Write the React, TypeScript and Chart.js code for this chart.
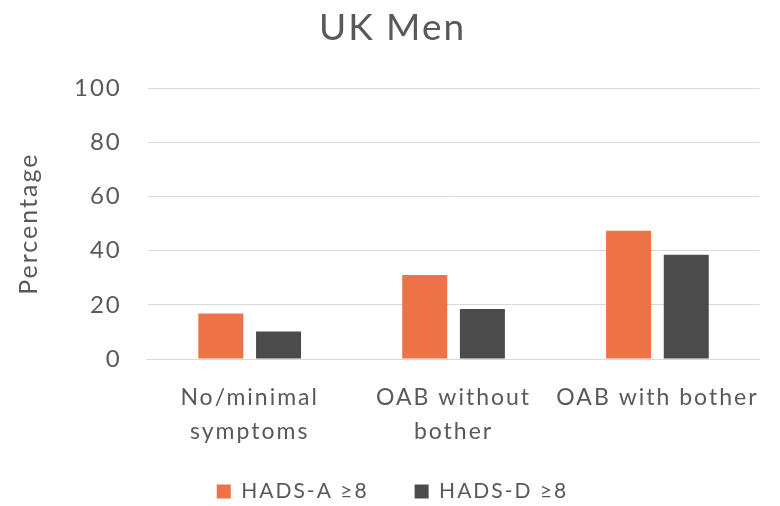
import React, { useEffect, useRef } from "react";
import { Chart, registerables } from "chart.js";

Chart.register(...registerables);

const categories: (string | string[])[] = [["No/minimal", "symptoms"], ["OAB without", "bother"], "OAB with bother"];
const hadsA = [16.8, 31.0, 47.4];
const hadsD = [10.2, 18.5, 38.5];
const yTicks = [0, 20, 40, 60, 80, 100];

const FONT = "Lato, 'Open Sans', sans-serif";
const GREY = "#595959";

const spacingPlugin = {
  id: "spacing",
  beforeUpdate(chart: any) {
    chart.ctx.letterSpacing = "2px";
  },
  beforeLayout(chart: any) {
    chart.ctx.letterSpacing = "2px";
  },
  beforeDraw(chart: any) {
    chart.ctx.letterSpacing = "2px";
  },
};

export default function App() {
  const ref = useRef<HTMLCanvasElement | null>(null);
  useEffect(() => {
    document.body.style.margin = "0";
    const ctx = ref.current!;
    const chart = new Chart(ctx, {
      type: "bar",
      plugins: [spacingPlugin],
      data: {
        labels: categories,
        datasets: [
          { label: "HADS-A ≥8", data: hadsA, backgroundColor: "#ED7347", borderWidth: 0 },
          { label: "HADS-D ≥8", data: hadsD, backgroundColor: "#4B4B4B", borderWidth: 0 },
        ],
      },
      options: {
        animation: false,
        responsive: false,
        maintainAspectRatio: false,
        layout: { padding: { left: 8, right: 3, top: 6, bottom: -6 } },
        datasets: { bar: { categoryPercentage: 0.566, barPercentage: 0.78 } },
        plugins: {
          title: {
            display: true,
            text: "UK Men",
            color: GREY,
            font: { family: FONT, size: 37, weight: "normal" },
            padding: { top: 0, bottom: 38 },
          },
          legend: {
            position: "bottom",
            labels: {
              color: GREY,
              font: { family: FONT, size: 21 },
              boxWidth: 14,
              boxHeight: 14,
              padding: 46,
            },
          },
          tooltip: { enabled: false },
        },
        scales: {
          x: {
            grid: { display: false, drawTicks: false },
            border: { display: true, color: "#d9d9d9", width: 1 },
            ticks: {
              color: GREY,
              font: { family: FONT, size: 23, lineHeight: 1.5 },
              padding: 21,
              maxRotation: 0,
            },
            afterFit: (axis: any) => {
              axis.height = 76;
              axis._computeLabelArea = () => undefined;
            },
          },
          y: {
            min: 0,
            max: 100,
            afterBuildTicks: (axis: any) => {
              axis.ticks = yTicks.map((v) => ({ value: v }));
            },
            grid: { color: "#d9d9d9", drawTicks: false, lineWidth: 1 },
            border: { display: false },
            ticks: { color: GREY, font: { family: FONT, size: 24 }, padding: 26 },
            title: {
              display: true,
              text: "Percentage",
              color: GREY,
              font: { family: FONT, size: 25 },
              padding: { top: 6, bottom: 4 },
            },
          },
        },
      },
    });
    return () => chart.destroy();
  }, []);
  return <canvas ref={ref} width={780} height={506} style={{ display: "block" }} />;
}
